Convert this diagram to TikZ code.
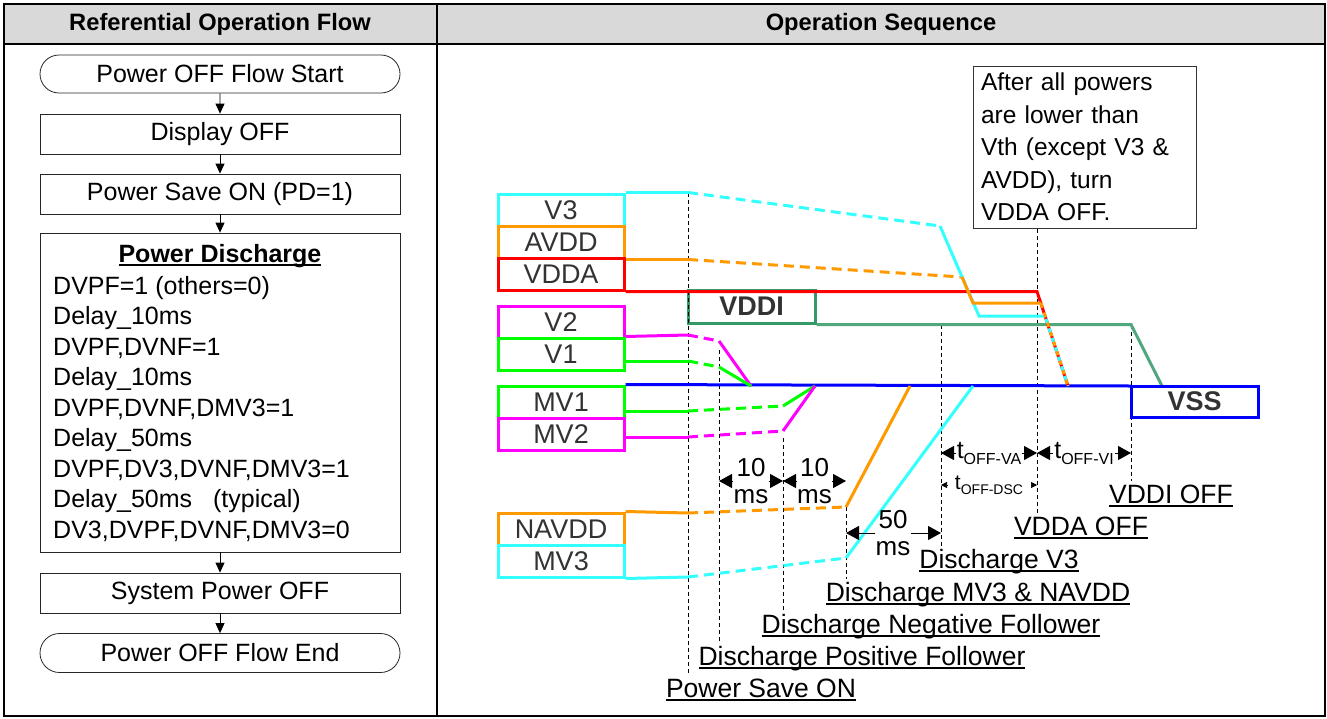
\documentclass[tikz,border=0pt]{standalone}
\usepackage{fontspec}
\setmainfont{Liberation Sans}
\usetikzlibrary{arrows.meta,shapes.misc,positioning}
\definecolor{sigcyan}{RGB}{51,255,255}
\definecolor{sigorange}{RGB}{255,153,0}
\definecolor{sigred}{RGB}{255,0,0}
\definecolor{sigmag}{RGB}{255,0,255}
\definecolor{siggreen}{RGB}{0,255,0}
\definecolor{vddigreen}{RGB}{51,153,102}
\definecolor{sigblue}{RGB}{0,0,255}
\definecolor{headgray}{RGB}{217,217,217}
\newcommand\ulabel[1]{\setbox0\hbox{#1}\rlap{\rule[-3.5pt]{\wd0}{1.8pt}}\box0}
\newcommand\toff[1]{t\raisebox{-6pt}{\fontsize{16}{16}\selectfont OFF-#1}}
\newcommand\toffs[1]{{\fontsize{21}{21}\selectfont t}\raisebox{-5pt}{\fontsize{14}{14}\selectfont OFF-#1}}
\begin{document}
\begin{tikzpicture}[x=1pt,y=-1pt,
 every node/.style={font=\fontsize{25}{30}\selectfont},
 headtext/.style={font=\bfseries\fontsize{23.7}{28}\selectfont},
 flowbox/.style={draw=black!85,line width=0.8pt,minimum width=360pt,minimum height=40pt,inner sep=0pt},
 flowend/.style={flowbox,rounded rectangle,minimum height=38pt},
 flowarr/.style={-{Triangle[length=10pt,width=9pt]},line width=0.8pt},
 steptext/.style={anchor=west,inner sep=0pt,text height=18pt,text depth=5pt},
 sigbox/.style={draw=#1,line width=3pt,fill=white,minimum width=126pt,minimum height=32pt,inner sep=0pt,text=black!80,font=\fontsize{27}{30}\selectfont},
 railbox/.style={sigbox=#1,minimum width=127pt,font=\bfseries\fontsize{27}{30}\selectfont},
 wave/.style={line width=3pt,draw=#1},
 wdash/.style={line width=3pt,draw=#1,dash pattern=on 10pt off 6pt},
 tmark/.style={line width=0.8pt,dash pattern=on 4pt off 3pt},
 evt/.style={inner sep=3pt,text height=19pt,text depth=6pt,font=\fontsize{26.5}{30}\selectfont},
 dimtext/.style={align=center,inner sep=0pt,font=\fontsize{26}{27}\selectfont},
 dimarr/.style={-{Triangle[length=13pt,width=14pt]},line width=1pt},
 dscarr/.style={-{Triangle[length=6pt,width=6pt]},line width=0.6pt,shorten <=7pt}]
\useasboundingbox (0,0) rectangle (1327,718);

\fill[headgray] (4,4) rectangle (1325,44);
\draw[line width=2pt] (4,4) rectangle (1325,716);
\draw[line width=1.5pt] (4,44) -- (1325,44) (437,4) -- (437,716);
\node[headtext] (hflow) at (220,24) {Referential Operation Flow};
\node[headtext] (hseq) at (881,24) {Operation Sequence};

\node[flowend] (fstart) at (220,74) {Power OFF Flow Start};
\node[flowbox] (fdisp) at (220,134) {Display OFF};
\node[flowbox] (fsave) at (220,194) {Power Save ON (PD=1)};
\node[flowbox,minimum height=319pt] (fdis) at (220,392.5) {};
\node[flowbox] (fsys) at (220,593) {System Power OFF};
\node[flowend,minimum height=39pt] (fend) at (220,653) {Power OFF Flow End};
\foreach \a/\b in {fstart/fdisp,fdisp/fsave,fsave/fdis,fdis/fsys,fsys/fend}
  \draw[flowarr] (\a) -- (\b);
\node[font=\bfseries\fontsize{25}{30}\selectfont] (fdistitle) at (220,256) {\ulabel{Power Discharge}};
\foreach \y/\txt [count=\i] in {288/{DVPF=1 (others=0)},318/{Delay\_10ms},349/{DVPF,DVNF=1},
  379/{Delay\_10ms},410/{DVPF,DVNF,DMV3=1},440/{Delay\_50ms},471/{DVPF,DV3,DVNF,DMV3=1},
  501/{Delay\_50ms\hspace{21pt}(typical)},532/{DV3,DVPF,DVNF,DMV3=0}}
  \node[steptext] (fstep\i) at (53,\y) {\txt};

\coordinate (t0) at (688,0);
\coordinate (t1) at (719,0);
\coordinate (t2) at (783,0);
\coordinate (t3) at (846,0);
\coordinate (t4) at (941,0);
\coordinate (t5) at (1037,0);
\coordinate (t6) at (1131,0);

\node[sigbox=sigcyan] (lv3) at (561,210) {V3};
\node[sigbox=sigorange] (lavdd) at (561,242) {AVDD};
\node[sigbox=sigred] (lvdda) at (561,274) {VDDA};
\node[sigbox=sigmag] (lv2) at (561,322) {V2};
\node[sigbox=siggreen] (lv1) at (561,354) {V1};
\node[sigbox=siggreen] (lmv1) at (561,402) {MV1};
\node[sigbox=sigmag] (lmv2) at (561,434) {MV2};
\node[sigbox=sigorange] (lnavdd) at (561,529) {NAVDD};
\node[sigbox=sigcyan] (lmv3) at (561,561) {MV3};
\node[railbox=vddigreen,minimum height=33pt] (lvddi) at (751.5,306.5) {VDDI};

\node[draw=black!80,line width=1pt,align=left,minimum width=223pt,minimum height=162pt,
  text width=207pt,inner sep=0pt,font=\fontsize{24.5}{32.5}\selectfont] (note) at (1084.5,147)
  {After all powers\\are lower than\\Vth (except V3 \&\\AVDD), turn\\VDDA OFF.};

\node[evt] (epsave) at (761,691) {\ulabel{Power Save ON}};
\node[evt] (epos) at (862,659) {\ulabel{Discharge Positive Follower}};
\node[evt] (eneg) at (931,627) {\ulabel{Discharge Negative Follower}};
\node[evt] (emv3) at (978,595) {\ulabel{Discharge MV3 \& NAVDD}};
\node[evt] (ev3) at (999,562) {\ulabel{Discharge V3}};
\node[evt] (evdda) at (1081,529) {\ulabel{VDDA OFF}};
\node[evt] (evddi) at (1171,497) {\ulabel{VDDI OFF}};

\draw[tmark] (t0 |- lv3.north) -- (t0 |- epsave.north);
\draw[tmark] (719,350) -- (t1 |- epos.north);
\draw[tmark] (783,438) -- (t2 |- eneg.north);
\draw[tmark] (846,507) -- (t3 |- emv3.north);
\draw[tmark] (t4 |- lvddi.south) -- (t4 |- ev3.north);
\draw[tmark] (t5 |- note.south) -- (t5 |- evdda.north);
\draw[tmark] (t6 |- lvddi.south) -- (t6 |- evddi.north);

\draw[wave=sigblue] (lmv1.north east) -- (1131,386);
\draw[wave=vddigreen!85] (lvddi.south east) -- (t6 |- lvddi.south) -- (1162,386);
\draw[wave=sigred] (lvdda.south east) -- (t5 |- lvdda.south) -- (1068,386);

\draw[wave=sigorange] (lavdd.south east) -- (t0 |- lavdd.south);
\draw[wdash=sigorange] (t0 |- lavdd.south) -- (962,277);
\draw[wave=sigcyan] (lv3.north east) -- (t0 |- lv3.north);
\draw[wdash=sigcyan] (t0 |- lv3.north) -- (940,226);
\draw[wave=sigcyan] (940,226) -- (979,316) -- (1045,316);
\draw[wave=sigorange] (962,277) -- (973,303) -- (1041,303);
\draw[wave=sigorange,dash pattern=on 5pt off 5pt] (1041,303) -- (1068,386);
\draw[wave=sigcyan,dash pattern=on 4pt off 6pt,dash phase=7pt] (1045,316) -- (1068,386);

\draw[wave=sigmag] ([yshift=3pt]lv2.south east) -- (688,335);
\draw[wdash=sigmag] (688,335) -- (719,341);
\draw[wave=sigmag] (719,341) -- (751,386);
\draw[wave=siggreen] ([yshift=-7pt]lv1.east) -- (688,361);
\draw[wdash=siggreen] (688,361) -- (719,367);
\draw[wave=siggreen] (719,367) -- (751,386);

\draw[wave=siggreen] ([yshift=-9pt]lmv1.east) -- (688,411);
\draw[wdash=siggreen] (688,411) -- (783,406);
\draw[wave=siggreen] (783,406) -- (815,386);
\draw[wave=sigmag] ([yshift=-3pt]lmv2.east) -- (688,437);
\draw[wdash=sigmag] (688,437) -- (783,431);
\draw[wave=sigmag] (783,431) -- (815,386);

\draw[wave=sigorange] (lnavdd.north east) -- (688,513);
\draw[wdash=sigorange] (688,513) -- (846,507);
\draw[wave=sigorange] (846,507) -- (910,386);
\draw[wave=sigcyan] (lmv3.south east) -- (688,577);
\draw[wdash=sigcyan] (688,577) -- (846,558);
\draw[wave=sigcyan] (846,558) -- (973,386);

\node[railbox=sigblue,minimum height=31pt] (lvss) at (1194.5,401.5) {VSS};

\node[dimtext] (d10a) at (751,481) {10\\ms};
\node[dimtext] (d10b) at (814.5,481) {10\\ms};
\node[dimtext] (d50) at (893,533) {50\\ms};
\draw[dimarr] (d10a.west) -- (t1 |- d10a);
\draw[dimarr] (d10a.east) -- (t2 |- d10a);
\draw[dimarr] (d10b.west) -- (t2 |- d10b);
\draw[dimarr] (d10b.east) -- (t3 |- d10b);
\draw[dimarr] (d50.west) -- (t3 |- d50);
\draw[dimarr] (d50.east) -- (t4 |- d50);

\node[inner sep=1pt] (tva) at (989,453) {\toff{VA}};
\node[inner sep=1pt] (tvi) at (1084,453) {\toff{VI}};
\node[inner sep=1pt] (tdsc) at (989,485) {\toffs{DSC}};
\draw[dimarr] (tva.west) -- (t4 |- tva);
\draw[dimarr] (tva.east) -- (t5 |- tva);
\draw[dimarr] (tvi.west) -- (t5 |- tvi);
\draw[dimarr] (tvi.east) -- (t6 |- tvi);
\draw[dscarr] (tdsc.west) -- (t4 |- tdsc);
\draw[dscarr] (tdsc.east) -- (t5 |- tdsc);
\end{tikzpicture}
\end{document}
